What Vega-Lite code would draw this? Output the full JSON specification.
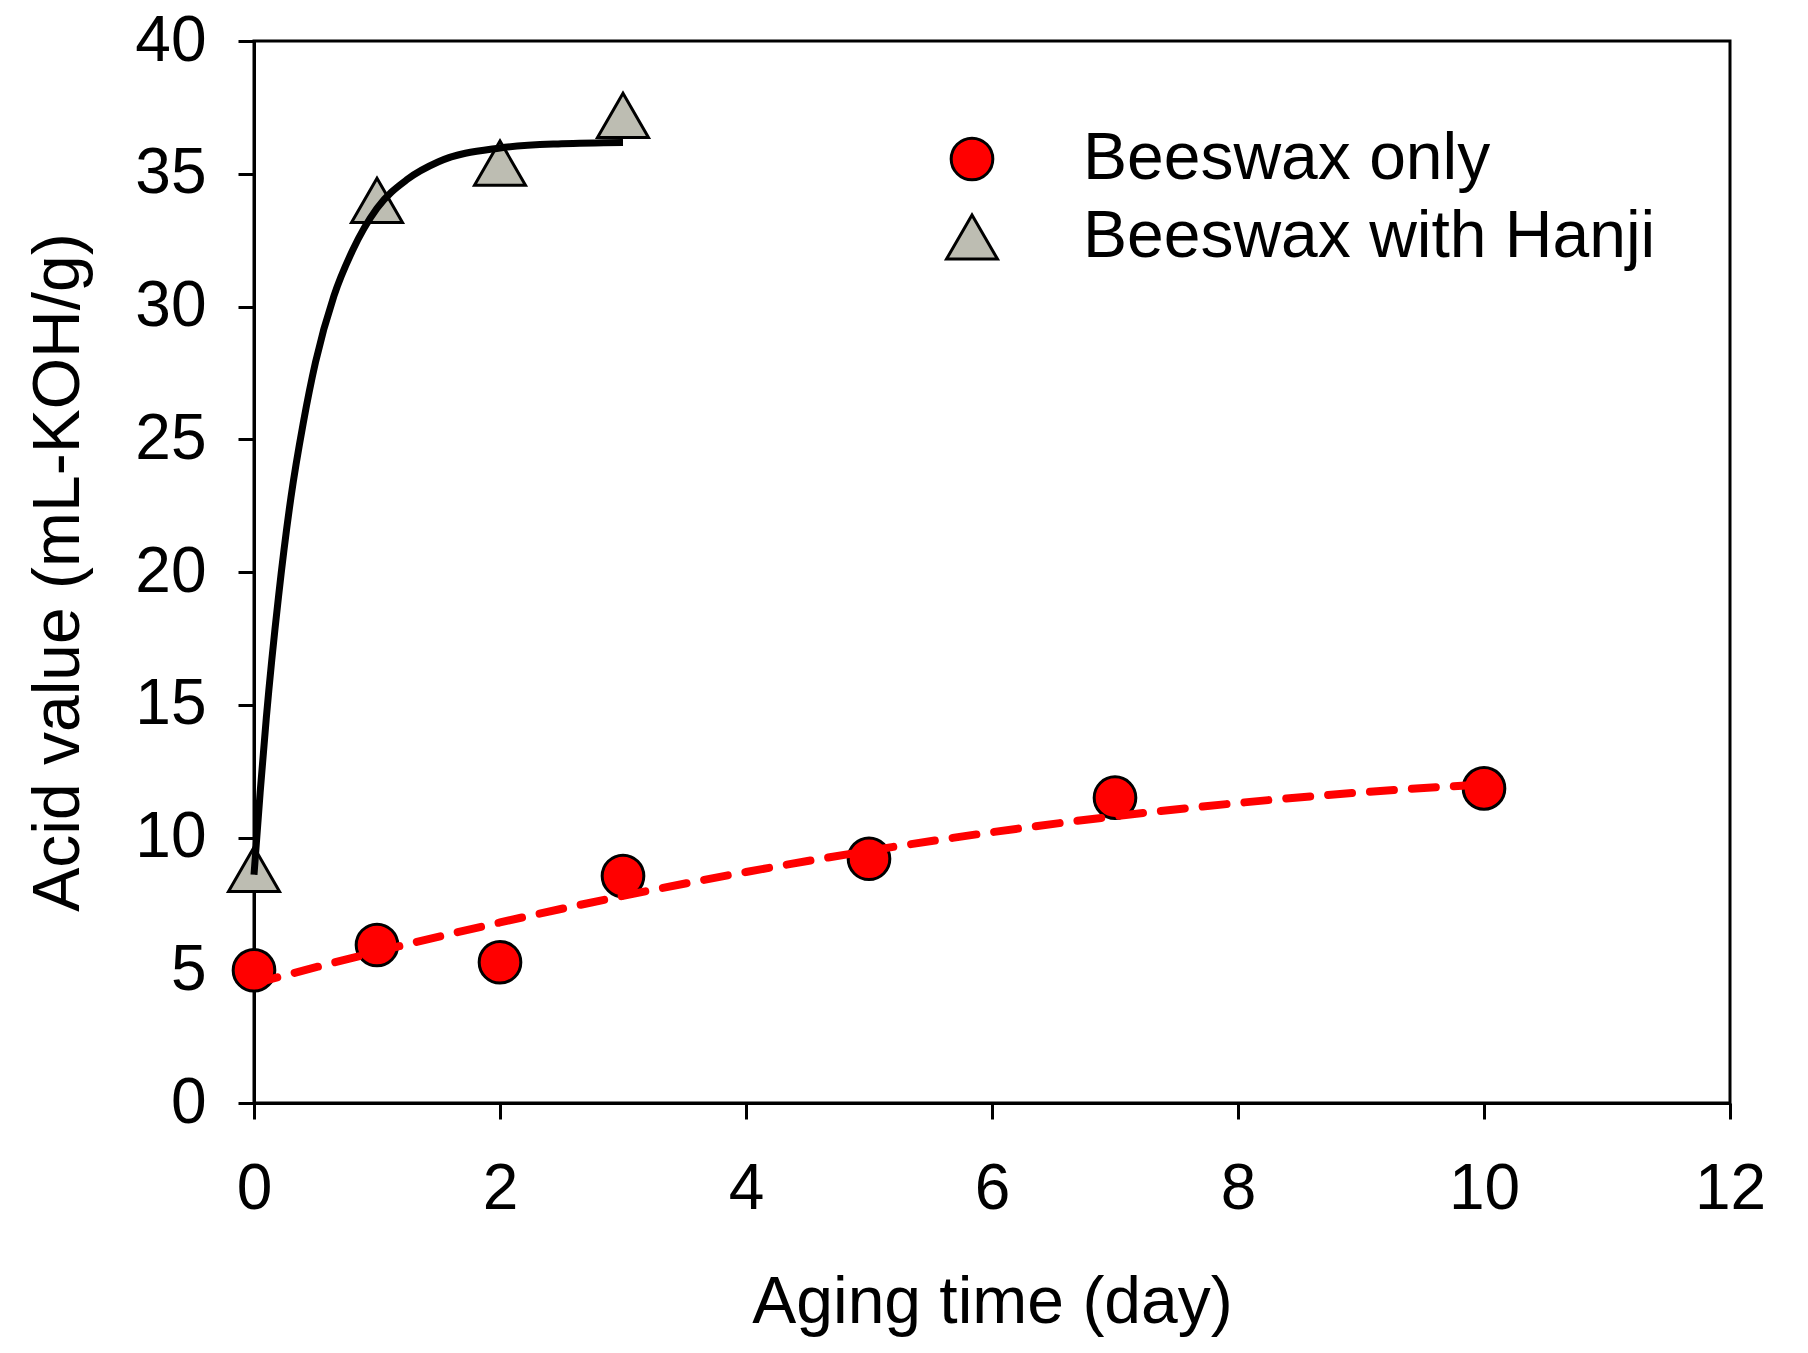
{
  "$schema": "https://vega.github.io/schema/vega-lite/v6.json",
  "autosize": {"type": "none"},
  "width": 1476,
  "height": 1062,
  "padding": {"left": 254, "top": 41, "right": 78, "bottom": 250},
  "background": "white",
  "config": {
    "font": "Liberation Sans",
    "view": {"stroke": "black", "strokeWidth": 3},
    "axis": {
      "domainColor": "black", "domainWidth": 3, "tickColor": "black", "tickWidth": 3, "tickSize": 16,
      "labelFont": "Liberation Sans", "labelFontSize": 64, "labelColor": "black", "labelFlush": false,
      "titleFont": "Liberation Sans", "titleFontSize": 66, "titleFontWeight": "normal", "titleColor": "black",
      "grid": false
    }
  },
  "datasets": {
    "pts": [
      {"day": 0, "acid": 5.0, "series": "Beeswax only"},
      {"day": 1, "acid": 5.95, "series": "Beeswax only"},
      {"day": 2, "acid": 5.3, "series": "Beeswax only"},
      {"day": 3, "acid": 8.55, "series": "Beeswax only"},
      {"day": 5, "acid": 9.2, "series": "Beeswax only"},
      {"day": 7, "acid": 11.5, "series": "Beeswax only"},
      {"day": 10, "acid": 11.85, "series": "Beeswax only"},
      {"day": 0, "acid": 8.8, "series": "Beeswax with Hanji"},
      {"day": 1, "acid": 34.0, "series": "Beeswax with Hanji"},
      {"day": 2, "acid": 35.4, "series": "Beeswax with Hanji"},
      {"day": 3, "acid": 37.2, "series": "Beeswax with Hanji"}
    ],
    "fitRed": [
      {"day": 0, "acid": 4.5}, {"day": 1, "acid": 5.7}, {"day": 2, "acid": 6.8}, {"day": 3, "acid": 7.8},
      {"day": 4, "acid": 8.7}, {"day": 5, "acid": 9.5}, {"day": 6, "acid": 10.2}, {"day": 7, "acid": 10.8},
      {"day": 8, "acid": 11.3}, {"day": 9, "acid": 11.7}, {"day": 10, "acid": 12.0}
    ],
    "fitBlack": [
      {"day": 0, "acid": 8.6}, {"day": 0.05, "acid": 11.7}, {"day": 0.1, "acid": 14.5}, {"day": 0.2, "acid": 19.1},
      {"day": 0.3, "acid": 22.8}, {"day": 0.4, "acid": 25.6}, {"day": 0.5, "acid": 27.9}, {"day": 0.65, "acid": 30.4},
      {"day": 0.8, "acid": 32.1}, {"day": 1.0, "acid": 33.7}, {"day": 1.25, "acid": 34.8}, {"day": 1.5, "acid": 35.45},
      {"day": 2.0, "acid": 35.97}, {"day": 2.5, "acid": 36.13}, {"day": 3.0, "acid": 36.18}
    ]
  },
  "layer": [
    {
      "data": {"name": "pts"},
      "mark": {"type": "point", "filled": true, "stroke": "black", "strokeWidth": 3, "opacity": 1},
      "encoding": {
        "x": {"field": "day", "type": "quantitative",
          "scale": {"domain": [0, 12], "nice": false, "zero": false},
          "axis": {"values": [0, 2, 4, 6, 8, 10, 12], "format": "d", "title": "Aging time (day)", "labelPadding": 38,
                   "titleBaseline": "alphabetic", "titleY": 219}},
        "y": {"field": "acid", "type": "quantitative",
          "scale": {"domain": [0, 40], "nice": false},
          "axis": {"values": [0, 5, 10, 15, 20, 25, 30, 35, 40], "format": "d", "title": "Acid value (mL-KOH/g)", "labelPadding": 32,
                   "titleBaseline": "alphabetic", "titleX": -176}},
        "fill": {"field": "series", "type": "nominal",
          "scale": {"domain": ["Beeswax only", "Beeswax with Hanji"], "range": ["#ff0000", "#bdbdb2"]},
          "legend": {"title": null, "orient": "none", "legendX": 685, "legendY": 85,
                     "labelFontSize": 66, "labelFont": "Liberation Sans", "labelColor": "black", "labelLimit": 0,
                     "labelOffset": 78, "rowPadding": 12, "padding": 0,
                     "symbolStrokeColor": "black", "symbolStrokeWidth": 3}},
        "shape": {"field": "series", "type": "nominal",
          "scale": {"domain": ["Beeswax only", "Beeswax with Hanji"], "range": ["circle", "triangle-up"]}},
        "size": {"field": "series", "type": "nominal",
          "scale": {"domain": ["Beeswax only", "Beeswax with Hanji"], "range": [1735, 2600]}}
      }
    },
    {
      "data": {"name": "fitRed"},
      "mark": {"type": "line", "color": "#ff0000", "strokeWidth": 8, "strokeDash": [24, 18], "strokeCap": "round", "interpolate": "monotone"},
      "encoding": {
        "x": {"field": "day", "type": "quantitative"},
        "y": {"field": "acid", "type": "quantitative"}
      }
    },
    {
      "data": {"name": "fitBlack"},
      "mark": {"type": "line", "color": "black", "strokeWidth": 7, "interpolate": "monotone"},
      "encoding": {
        "x": {"field": "day", "type": "quantitative"},
        "y": {"field": "acid", "type": "quantitative"}
      }
    }
  ]
}
